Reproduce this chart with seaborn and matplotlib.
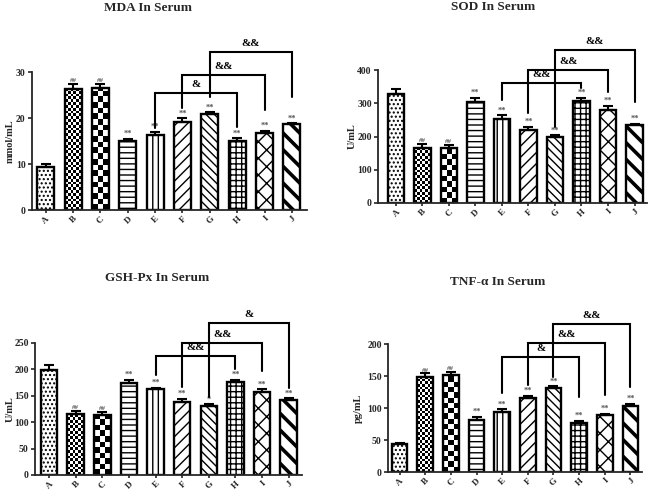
import numpy as np
import pandas as pd
import matplotlib
matplotlib.use("Agg")
import matplotlib.pyplot as plt
import seaborn as sns

# ---------------- data ----------------
groups = ["A", "B", "C", "D", "E", "F", "G", "H", "I", "J"]

mda_mean = [9.3, 26.4, 26.6, 14.9, 16.3, 19.2, 20.8, 15.0, 16.7, 18.6]
mda_err = [0.8, 1.0, 0.8, 0.6, 0.7, 0.7, 0.5, 0.6, 0.5, 0.3]
mda_sig = ["", "##", "##", "**", "**", "**", "**", "**", "**", "**"]
mda_brackets = [(4, 7, 25.4, 17.8, 18.1, "&"),
                (5, 8, 29.3, 22.1, 21.7, "&&"),
                (6, 9, 34.4, 24.6, 24.6, "&&")]

sod_mean = [327, 166, 165, 304, 253, 221, 199, 307, 281, 235]
sod_err = [15, 11, 10, 13, 11, 8, 5, 9, 12, 3]
sod_sig = ["", "##", "##", "**", "**", "**", "**", "**", "**", "**"]
sod_brackets = [(4, 7, 361, 310, 346, "&&"),
                (5, 8, 400, 270, 334, "&&"),
                (6, 9, 460, 229, 304, "&&")]

gsh_mean = [198, 115, 114, 175, 162, 139, 130, 177, 157, 142]
gsh_err = [10, 6, 5, 5, 3, 5, 4, 3, 5, 3]
gsh_sig = ["", "##", "##", "**", "**", "**", "*", "**", "**", "**"]
gsh_brackets = [(4, 7, 225, 189, 200, "&&"),
                (5, 8, 250.6, 167, 197, "&&"),
                (6, 9, 288, 148, 165, "&")]

tnf_mean = [43, 149, 151, 81, 93, 116, 131, 77, 89, 103]
tnf_err = [3, 5, 5, 5, 5, 3, 3, 3, 2, 4]
tnf_sig = ["", "##", "##", "**", "**", "**", "**", "**", "**", "**"]
tnf_brackets = [(4, 7, 180, 123, 117.5, "&"),
                (5, 8, 201, 136, 120, "&&"),
                (6, 9, 231, 149, 133, "&&")]

titles = ["MDA In Serum", "SOD In Serum", "GSH-Px In Serum", "TNF-\u03b1 In Serum"]
ylabels = ["mmol/mL", "U/mL", "U/mL", "pg/mL"]
yticks = [[0, 10, 20, 30], [0, 100, 200, 300, 400],
          [0, 50, 100, 150, 200, 250], [0, 50, 100, 150, 200]]

# ---------------- style ----------------
sns.set_style("ticks")
plt.rcParams["font.family"] = ["Liberation Serif", "DejaVu Serif"]
plt.rcParams["font.weight"] = "bold"
plt.rcParams["hatch.linewidth"] = 1.0

W, H = 649, 491
fig = plt.figure(figsize=(W / 100, H / 100), dpi=100)

hatches = ["....", None, None, "---", "|||", "///", "\\\\\\\\", "+++", "xx", "\\\\"]

# layout in pixels: x0, x1, zero_y, topTick_y, xlim, ylim_top, title pos, ylabel pos
layouts = [
    dict(x0=32, x1=307, zy=210, ty=72, xlim=(-0.5, 9.55), ytop=38, title=(148, 8), ylab=(10, 141)),
    dict(x0=378, x1=647, zy=203, ty=70, xlim=(-0.67, 9.47), ytop=500, title=(493, 7), ylab=(352, 136)),
    dict(x0=35, x1=302, zy=475, ty=343, xlim=(-0.53, 9.5), ytop=310, title=(157, 278), ylab=(10, 409)),
    dict(x0=388, x1=642, zy=472, ty=344, xlim=(-0.45, 9.45), ytop=250, title=(498, 282), ylab=(358, 408)),
]

panels = [
    (mda_mean, mda_err, mda_sig, mda_brackets),
    (sod_mean, sod_err, sod_sig, sod_brackets),
    (gsh_mean, gsh_err, gsh_sig, gsh_brackets),
    (tnf_mean, tnf_err, tnf_sig, tnf_brackets),
]


def add_checker(ax, patch, sq_px):
    bb = patch.get_window_extent()
    w_px, h_px = bb.width, bb.height
    nx = max(1, int(round(w_px / sq_px)))
    side_px = w_px / nx
    ny = int(np.ceil(h_px / side_px)) + 1
    arr = (np.indices((ny, nx)).sum(axis=0) % 2).astype(float)
    x0, w = patch.get_x(), patch.get_width()
    y0, h = patch.get_y(), patch.get_height()
    side_data = h / h_px * side_px
    im = ax.imshow(arr, cmap="gray", vmin=0, vmax=1,
                   extent=(x0, x0 + w, y0, y0 + ny * side_data),
                   origin="lower", aspect="auto", interpolation="nearest",
                   zorder=1.5)
    im.set_clip_path(patch)


for k, (lay, (means, errs, sig, brackets)) in enumerate(zip(layouts, panels)):
    tmax = yticks[k][-1]
    px_per_unit = (lay["zy"] - lay["ty"]) / tmax
    height_px = lay["ytop"] * px_per_unit
    ax = fig.add_axes([lay["x0"] / W, 1 - lay["zy"] / H,
                       (lay["x1"] - lay["x0"]) / W, height_px / H])
    df = pd.DataFrame({"group": groups, "value": means})
    sns.barplot(data=df, x="group", y="value", ax=ax, color="white",
                saturation=1, edgecolor="black", linewidth=1.7, width=0.62,
                errorbar=None)
    ax.set_xlim(*lay["xlim"])
    ax.set_ylim(0, lay["ytop"])

    for i, p in enumerate(ax.patches):
        p.set_zorder(2)
        h = hatches[i]
        if h:
            p.set_hatch(h)
        if i in (1, 2):
            p.set_facecolor("none")
        if i == 9 and hasattr(p, "set_hatch_linewidth"):
            p.set_hatch_linewidth(2.6)

    add_checker(ax, ax.patches[1], 2.8)
    add_checker(ax, ax.patches[2], 5.6)
    ax.set_xlim(*lay["xlim"])
    ax.set_ylim(0, lay["ytop"])

    x = np.arange(len(groups))
    ax.errorbar(x, means, yerr=[np.zeros(len(means)), errs], fmt="none",
                ecolor="black", elinewidth=1.5, capsize=3.5, capthick=1.5,
                zorder=3)

    for i, s in enumerate(sig):
        if s:
            ax.annotate(s, (i, means[i] + errs[i]), xytext=(0, 0.5),
                        textcoords="offset points", ha="center", va="bottom",
                        fontsize=6 if s.startswith("*") else 5,
                        color="#555555")

    for (i, j, yb, yl, yr, lab) in brackets:
        ax.plot([i, i, j, j], [yl, yb, yb, yr], color="black", lw=1.5,
                clip_on=False, zorder=4, solid_joinstyle="miter")
        ax.annotate(lab, ((i + j) / 2, yb), xytext=(0, 3),
                    textcoords="offset points", ha="center", va="bottom",
                    fontsize=8, fontweight="bold", color="black")

    sns.despine(ax=ax)
    ax.spines["left"].set_bounds(0, tmax)
    for sp in ("left", "bottom"):
        ax.spines[sp].set_linewidth(1.3)
    ax.set_yticks(yticks[k])
    ax.set_xlabel("")
    ax.set_ylabel("")
    ax.tick_params(axis="y", labelsize=7, width=1.2, length=3, pad=1.5)
    ax.tick_params(axis="x", labelsize=6.5, width=1.2, length=2.5, pad=1)
    for lbl in ax.get_yticklabels():
        lbl.set_fontweight("bold")
    ax.set_xticks(x)
    ax.set_xticklabels(groups, rotation=45, ha="right", rotation_mode="anchor",
                       fontweight="bold")

    fig.text(lay["title"][0] / W, 1 - lay["title"][1] / H, titles[k],
             ha="center", va="center", fontsize=9.5, fontweight="bold")
    fig.text(lay["ylab"][0] / W, 1 - lay["ylab"][1] / H, ylabels[k],
             ha="center", va="center", rotation=90, fontsize=7.5,
             fontweight="bold")

fig.savefig("out.png", dpi=100)
